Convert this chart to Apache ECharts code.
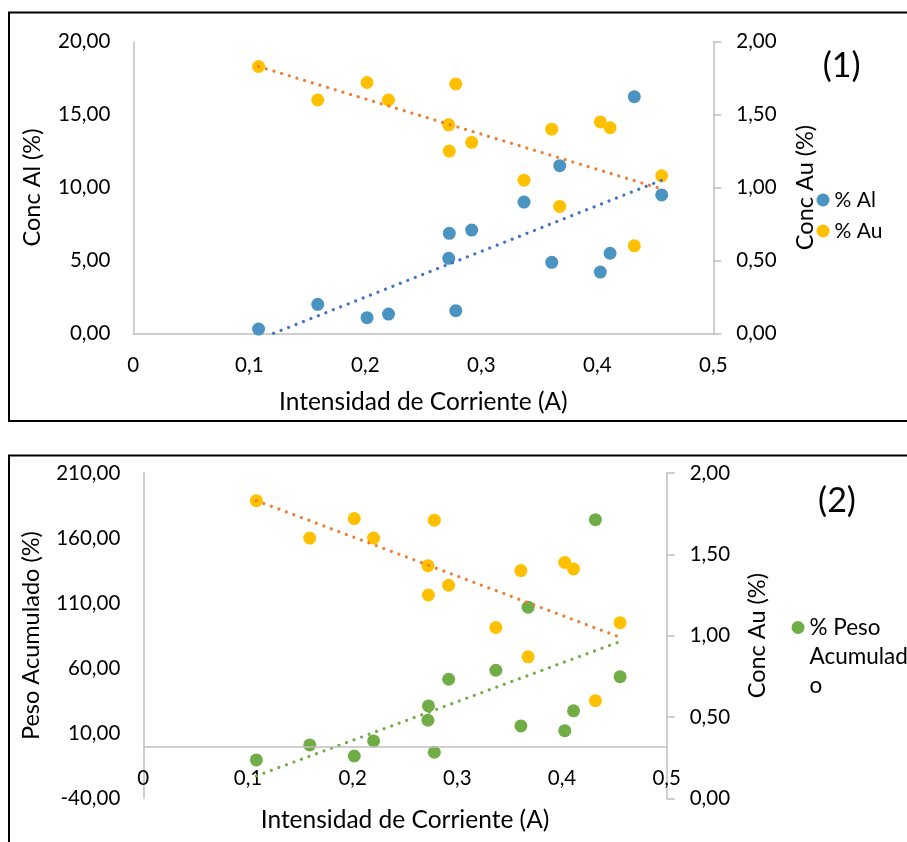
<!DOCTYPE html>
<html><head><meta charset="utf-8">
<script src="https://cdn.jsdelivr.net/npm/echarts@6/dist/echarts.min.js"></script>
<style>html,body{margin:0;padding:0;background:#fff}#c{width:907px;height:842px}</style>
</head><body><div id="c"></div>
<script>
// ---- data ----
const current   = [0.108, 0.159, 0.2015, 0.220, 0.2724, 0.2719, 0.278, 0.2917, 0.3368, 0.3607, 0.3676, 0.4026, 0.411, 0.4319, 0.4555];
const concAl    = [0.29, 1.99, 1.07, 1.32, 6.86, 5.14, 1.55, 7.08, 9.00, 4.87, 11.50, 4.20, 5.49, 16.23, 9.49];
const concAu    = [1.83, 1.60, 1.72, 1.60, 1.25, 1.43, 1.71, 1.31, 1.05, 1.40, 0.87, 1.45, 1.41, 0.60, 1.08];
const pesoAcum  = [-10.5, 1.0, -7.5, 4.1, 31.0, 20.0, -4.6, 51.5, 58.4, 15.6, 106.9, 12.0, 27.2, 174.1, 53.5];
const alTrend   = [[0.121, 0], [0.4555, 10.5]];
const auTrend   = [[0.108, 1.83], [0.4555, 0.99]];
const pesoTrend = [[0.108, -22.8], [0.4555, 80.5]];
const pesoTicks = [-40, 10, 60, 110, 160, 210];
const pesoLegendLines = ['% Peso', 'Acumulad', 'o'];

const FONT = 'Lato';
const TXT = '#000';
const AX = '#BFBFBF';
const TICK_FS = 20.5, TITLE_FS = 23.5, XTITLE_FS = 24.5, LEG_FS = 21;
const zip = (xs, ys) => xs.map((x, i) => [x, ys[i]]);
const fmtX = v => (v === 0 ? '0' : Number(v).toFixed(1).replace('.', ','));
const fmtY = v => Number(v).toFixed(2).replace('.', ',');
const txt = (fs, extra) => Object.assign({fontSize: fs, fontFamily: FONT, color: TXT}, extra || {});

function xAxis(grid, showLine, margin, gap) {
  return {
    type: 'value', gridIndex: grid, min: 0, max: 0.5, interval: 0.1, position: 'bottom',
    axisLine: {show: showLine, onZero: false, lineStyle: {color: AX, width: 1.5}},
    axisTick: {show: false}, splitLine: {show: false},
    axisLabel: txt(TICK_FS, {margin: margin, formatter: fmtX}),
    name: 'Intensidad de Corriente (A)', nameLocation: 'middle', nameGap: gap,
    nameTextStyle: txt(XTITLE_FS)
  };
}
function yAxis(grid, pos, min, max, interval, name, gap, ticks, custom) {
  const a = {
    type: 'value', gridIndex: grid, position: pos, min: min, max: max,
    axisLine: {show: true, onZero: false, lineStyle: {color: AX, width: 1.5}},
    axisTick: ticks ? {show: true, inside: false, length: 8, lineStyle: {color: AX, width: 1.5}} : {show: false},
    splitLine: {show: false},
    axisLabel: txt(TICK_FS, {margin: 23, formatter: fmtY}),
    name: name, nameLocation: 'middle', nameGap: gap, nameTextStyle: txt(TITLE_FS)
  };
  if (custom) { a.axisLabel.customValues = custom; a.axisTick.customValues = custom; } else { a.interval = interval; }
  return a;
}
const dotted = (color) => ({color: color, width: 3.2, type: [0.01, 8], cap: 'round'});

const chart = echarts.init(document.getElementById('c'), null, {renderer: 'canvas'});
chart.setOption({
  animation: false,
  backgroundColor: '#fff',
  grid: [
    {left: 133.3, top: 41.7, width: 580, height: 291.6, outerBoundsMode: 'none'},
    {left: 143.3, top: 473, width: 523.4, height: 325.3, outerBoundsMode: 'none'}
  ],
  xAxis: [xAxis(0, true, 22, 56.5), xAxis(1, false, -30.5, 9.5)],
  yAxis: [
    yAxis(0, 'left', 0, 20, 5, 'Conc Al (%)', 88.5, false),
    yAxis(0, 'right', 0, 2, 0.5, 'Conc Au (%)', 80, true),
    yAxis(1, 'left', -40, 210, 50, 'Peso Acumulado (%)', 99.5, false, pesoTicks),
    yAxis(1, 'right', 0, 2, 0.5, 'Conc Au (%)', 78.5, true)
  ],
  legend: [
    {orient: 'vertical', left: 816.5, top: 188, padding: 0, itemWidth: 13, itemHeight: 13, itemGap: 7,
     icon: 'circle', selectedMode: false, data: ['% Al', '% Au'],
     textStyle: txt(LEG_FS, {lineHeight: 24})},
    {orient: 'vertical', left: 791.5, top: 555, padding: 0, itemWidth: 13, itemHeight: 13,
     icon: 'circle', selectedMode: false, data: ['% Peso Acumulado'],
     formatter: () => '\n\n' + pesoLegendLines.join('\n'),
     textStyle: txt(22.5, {lineHeight: 29})}
  ],
  graphic: [
    {type: 'rect', shape: {x: 9, y: 12.5, width: 1000, height: 408.5}, style: {fill: 'none', stroke: '#000', lineWidth: 2}, silent: true},
    {type: 'rect', shape: {x: 9, y: 455.5, width: 1000, height: 500}, style: {fill: 'none', stroke: '#000', lineWidth: 2}, silent: true},
    {type: 'text', x: 841.7, y: 65.7, style: {text: '(1)', fontSize: 34, fontFamily: FONT, fill: TXT, align: 'center', verticalAlign: 'middle'}},
    {type: 'text', x: 837, y: 500.7, style: {text: '(2)', fontSize: 34, fontFamily: FONT, fill: TXT, align: 'center', verticalAlign: 'middle'}}
  ],
  series: [
    {type: 'scatter', name: '% Al', xAxisIndex: 0, yAxisIndex: 0, data: zip(current, concAl), symbolSize: 13, itemStyle: {color: '#4B93C0', opacity: 1}},
    {type: 'scatter', name: '% Au', xAxisIndex: 0, yAxisIndex: 1, data: zip(current, concAu), symbolSize: 13, itemStyle: {color: '#FFC000', opacity: 1}},
    {type: 'line', name: 'Lineal (% Al)', xAxisIndex: 0, yAxisIndex: 0, data: alTrend, symbol: 'none', clip: true, lineStyle: dotted('#4472C4'), silent: true},
    {type: 'line', name: 'Lineal (% Au)', xAxisIndex: 0, yAxisIndex: 1, data: auTrend, symbol: 'none', clip: true, lineStyle: dotted('#ED7D31'), silent: true},

    {type: 'scatter', name: '% Peso Acumulado', xAxisIndex: 1, yAxisIndex: 2, data: zip(current, pesoAcum), symbolSize: 13, itemStyle: {color: '#70AD47', opacity: 1},
     markLine: {silent: true, symbol: 'none', label: {show: false}, animation: false,
                lineStyle: {color: AX, width: 1.5, type: 'solid'}, data: [{yAxis: 0}]}},
    {type: 'scatter', name: '% Au ', xAxisIndex: 1, yAxisIndex: 3, data: zip(current, concAu), symbolSize: 13, itemStyle: {color: '#FFC000', opacity: 1}},
    {type: 'line', name: 'Lineal (% Peso)', xAxisIndex: 1, yAxisIndex: 2, data: pesoTrend, symbol: 'none', clip: true, lineStyle: dotted('#70AD47'), silent: true},
    {type: 'line', name: 'Lineal (% Au) 2', xAxisIndex: 1, yAxisIndex: 3, data: auTrend, symbol: 'none', clip: true, lineStyle: dotted('#ED7D31'), silent: true}
  ]
});
</script>
</body></html>
